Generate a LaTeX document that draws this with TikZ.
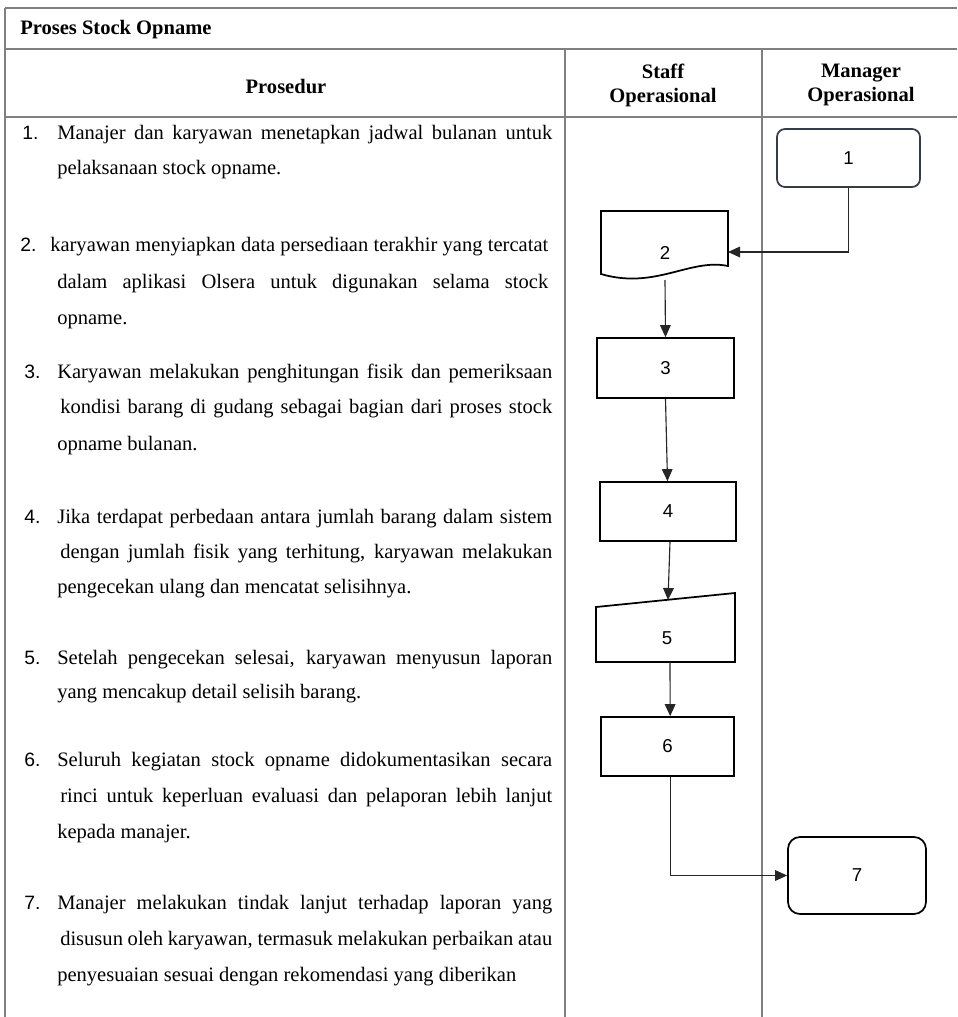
\documentclass[tikz,border=0pt]{standalone}
\usepackage{fontspec}
\setmainfont{Liberation Serif}
\newfontfamily\arialf{Liberation Sans}
\usetikzlibrary{arrows.meta}
\definecolor{tgray}{HTML}{808080}
\definecolor{boxnavy}{HTML}{353B48}
\definecolor{arrgray}{HTML}{262626}
\newdimen\pxu \pxu=0.75pt
\newcommand{\jl}[2]{\makebox[#1\pxu][s]{#2}}
\begin{document}
\begin{tikzpicture}[x=0.75pt,y=-0.75pt,
  tabline/.style={draw=tgray, line width=1.5pt},
  txt/.style={inner sep=0pt, anchor=base west, font=\fontsize{15.4}{18}\selectfont},
  num/.style={inner sep=0pt, anchor=base west, font=\arialf\fontsize{14.5}{18}\selectfont},
  hdr/.style={inner sep=0pt, align=center, font=\bfseries\fontsize{15.4}{18}\selectfont},
  digit/.style={font=\arialf\fontsize{14}{16}\selectfont},
  stepbox/.style={draw=black, line width=1.3pt, inner sep=0pt, digit},
  rbox/.style={stepbox, rounded corners=6pt},
  arr/.style={draw=arrgray, line width=0.85pt, -{Triangle[length=9pt,width=8pt]}},
  ln/.style={draw=arrgray, line width=0.85pt}
]
\useasboundingbox (0,0) rectangle (957,1017);
\fill[white] (0,0) rectangle (957,1017);
% table
\draw[tabline] (5,8) -- (957,8);
\draw[tabline] (5,49) -- (957,49);
\draw[tabline] (5,117) -- (957,117);
\draw[tabline] (5,8) -- (5,1017);
\draw[tabline] (565,49) -- (565,1017);
\draw[tabline] (762,49) -- (762,1017);
% headers
\node[inner sep=0pt, anchor=base west, font=\bfseries\fontsize{15.4}{18}\selectfont] (title) at (20,34) {Proses Stock Opname};
\node[hdr] (hproc) at (286,87) {Prosedur};
\node[hdr] (hstaff) at (663,85) {Staff\\Operasional};
\node[hdr] (hmgr) at (861,85) {Manager\\Operasional};
% item 1
\node[num] (n1) at (22,139) {1.};
\node[txt] (t1a) at (57,139) {\jl{495}{Manajer dan karyawan menetapkan jadwal bulanan untuk}};
\node[txt] (t1b) at (57,174) {pelaksanaan stock opname.};
% item 2
\node[num] (n2) at (20,251) {2.};
\node[txt] (t2a) at (50,251) {\jl{498}{karyawan menyiapkan data persediaan terakhir yang tercatat}};
\node[txt] (t2b) at (57,288) {\jl{491}{dalam aplikasi Olsera untuk digunakan selama stock}};
\node[txt] (t2c) at (57,324) {opname.};
% item 3
\node[num] (n3) at (24,378) {3.};
\node[txt] (t3a) at (57,378) {\jl{495}{Karyawan melakukan penghitungan fisik dan pemeriksaan}};
\node[txt] (t3b) at (60,413) {\jl{492}{kondisi barang di gudang sebagai bagian dari proses stock}};
\node[txt] (t3c) at (57,450) {opname bulanan.};
% item 4
\node[num] (n4) at (24,523) {4.};
\node[txt] (t4a) at (57,523) {\jl{495}{Jika terdapat perbedaan antara jumlah barang dalam sistem}};
\node[txt] (t4b) at (60,558) {\jl{492}{dengan jumlah fisik yang terhitung, karyawan melakukan}};
\node[txt] (t4c) at (57,593) {pengecekan ulang dan mencatat selisihnya.};
% item 5
\node[num] (n5) at (24,664) {5.};
\node[txt] (t5a) at (57,664) {\jl{495}{Setelah pengecekan selesai, karyawan menyusun laporan}};
\node[txt] (t5b) at (57,698) {yang mencakup detail selisih barang.};
% item 6
\node[num] (n6) at (24,766) {6.};
\node[txt] (t6a) at (57,766) {\jl{495}{Seluruh kegiatan stock opname didokumentasikan secara}};
\node[txt] (t6b) at (60,802) {\jl{492}{rinci untuk keperluan evaluasi dan pelaporan lebih lanjut}};
\node[txt] (t6c) at (57,838) {kepada manajer.};
% item 7
\node[num] (n7) at (24,909) {7.};
\node[txt] (t7a) at (57,909) {\jl{495}{Manajer melakukan tindak lanjut terhadap laporan yang}};
\node[txt] (t7b) at (60,945) {\jl{492}{disusun oleh karyawan, termasuk melakukan perbaikan atau}};
\node[txt] (t7c) at (57,981) {penyesuaian sesuai dengan rekomendasi yang diberikan};
% flow shapes
\node[rbox, draw=boxnavy, minimum width=143*0.75pt, minimum height=58*0.75pt] (b1) at (848.5,158) {1};
% document shape 2
\draw[draw=black, line width=1.3pt] (601,211) -- (728,211) -- (728,266)
  .. controls (690,258) and (655,290) .. (601,274) -- cycle;
\node[inner sep=0pt, digit] (b2) at (665,253) {2};
\coordinate (b2in) at (728,252);
\coordinate (b2out) at (665,280);
\node[stepbox, minimum width=137*0.75pt, minimum height=60*0.75pt] (b3) at (665.5,368) {3};
\node[stepbox, minimum width=136*0.75pt, minimum height=59*0.75pt, text depth=-4pt] (b4) at (668,511.5) {4};
% manual input 5
\draw[draw=black, line width=1.3pt] (596,607) -- (735,593) -- (735,662) -- (596,662) -- cycle;
\node[inner sep=0pt, digit] (b5) at (667,638) {5};
\coordinate (b5in) at (668,600);
\coordinate (b5out) at (670,662);
\node[stepbox, minimum width=133*0.75pt, minimum height=59*0.75pt] (b6) at (667.5,746.5) {6};
\node[rbox, rounded corners=9pt, minimum width=138*0.75pt, minimum height=77*0.75pt] (b7) at (857,875.5) {7};
% connectors
\draw[arr] (b1.south) |- (b2in);
\draw[arr] (b2out) -- (b3.north);
\draw[arr] (b3.south) -- ([xshift=1.5pt]b4.north -| b3.south);
\draw[arr] ([xshift=1.5pt]b4.south -| b4.south) -- (b5in);
\draw[arr] (b5out) -- ([xshift=2pt]b6.north);
\draw[arr] ([xshift=2pt]b6.south) |- (b7.west);
\end{tikzpicture}
\end{document}
